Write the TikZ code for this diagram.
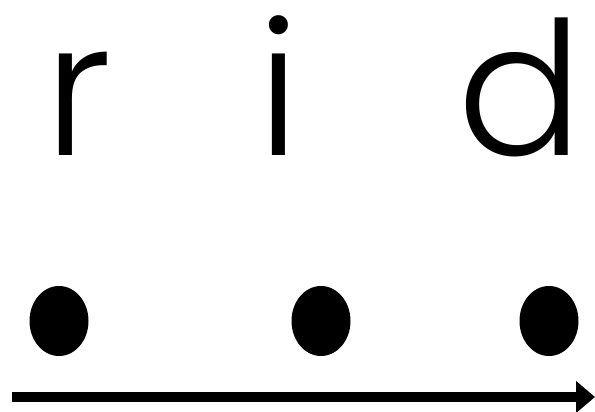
\documentclass[tikz,border=0pt]{standalone}
\usepackage{fontspec}
\newfontfamily\ridfont{Poppins}[UprightFont=* Light]
\usetikzlibrary{arrows.meta,shapes.geometric}

\begin{document}
\begin{tikzpicture}[x=1pt,y=1pt]

		\tikzset{letter/.style={anchor=base,inner sep=0pt,font=\ridfont\fontsize{186}{186}\selectfont}}
		\tikzset{dot/.style={shape=ellipse,fill=black,inner sep=0pt,minimum width=59pt,minimum height=70pt}}
		\tikzset{arrow/.style={draw,line width=10pt,-{Triangle[length=19pt,width=31pt]}}}

		\useasboundingbox (0,0) rectangle (595,412);

		% letters
		\node[letter] (r) at (78,256.3) {r};
		\node[letter] (i) at (279,256.3) {i};
		\node[letter] (d) at (520,256.3) {d};

		% dots
		\node[dot] (r1) at (59,91) {};
		\node[dot] (i1) at (321,91) {};
		\node[dot] (d1) at (549,91) {};

		% time axis
		\coordinate (s) at (12,15);
		\coordinate (e) at (595,15);
		\path[arrow] (s) to (e);

	\end{tikzpicture}
\end{document}
